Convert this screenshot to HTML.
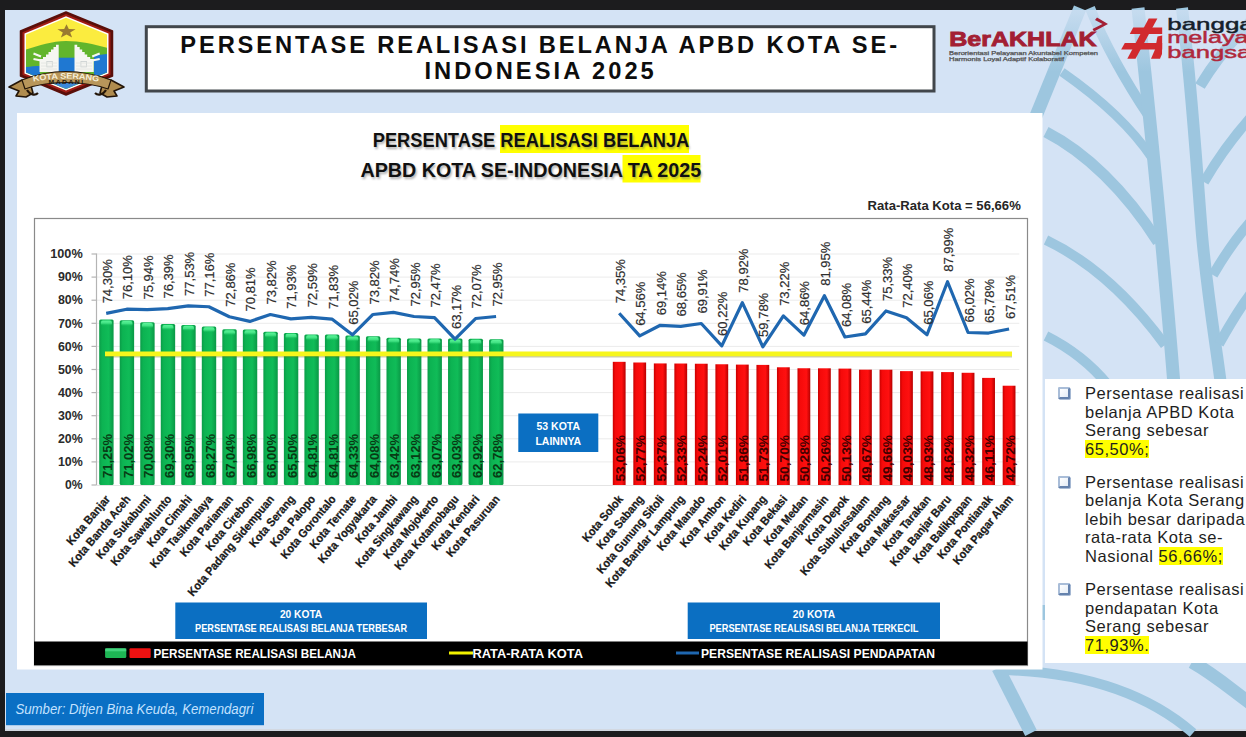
<!DOCTYPE html><html><head><meta charset="utf-8"><title>Persentase Realisasi Belanja APBD Kota</title><style>
html,body{margin:0;padding:0;}
body{width:1246px;height:737px;overflow:hidden;background:#1c1c1e;font-family:"Liberation Sans", sans-serif;position:relative;}
.slide{position:absolute;left:5px;top:10px;width:1241px;height:721px;background:#d4e3f5;overflow:hidden;border-bottom:0;box-shadow:inset 0 -2px 0 #d2d8e1;}
.abs{position:absolute;}
svg text{font-family:"Liberation Sans", sans-serif;}
.tbox{position:absolute;left:1045px;top:379px;width:201px;height:284px;background:#fff;}
.tb p{position:absolute;left:40px;margin:0;font-size:16.5px;line-height:18.55px;color:#1e1e1e;letter-spacing:0.53px;white-space:nowrap;}
.hl{background:#ffff00;}
.bul{position:absolute;left:12.5px;width:8px;height:8px;border:2px solid #a9bdd8;border-right-color:#6582ad;border-bottom-color:#6582ad;border-radius:1.5px;background:linear-gradient(135deg,#ffffff,#e4ecf6);box-shadow:0.8px 0.8px 0 #8ea6c8;}
</style></head><body>
<div class="slide"></div>
<svg class="abs" style="left:0;top:0" width="1246" height="737" viewBox="0 0 1246 737">
<defs>
<linearGradient id="gg" x1="0" x2="1" y1="0" y2="0"><stop offset="0" stop-color="#0b9c48"/><stop offset="0.2" stop-color="#0cb352"/><stop offset="0.65" stop-color="#10bc58"/><stop offset="1" stop-color="#0a9846"/></linearGradient>
<linearGradient id="gt" x1="0" x2="0" y1="0" y2="1"><stop offset="0" stop-color="#5cf59a"/><stop offset="0.5" stop-color="#4eec8e" stop-opacity="0.8"/><stop offset="1" stop-color="#10bc58" stop-opacity="0"/></linearGradient>
<linearGradient id="rg" x1="0" x2="1" y1="0" y2="0"><stop offset="0" stop-color="#c80000"/><stop offset="0.2" stop-color="#f50a0a"/><stop offset="0.7" stop-color="#ff1010"/><stop offset="1" stop-color="#b80000"/></linearGradient>
<filter id="blur1" x="-5%" y="-20%" width="110%" height="140%"><feGaussianBlur stdDeviation="0.8"/></filter>
</defs>
<g fill="none" stroke="#9dc6df" stroke-linecap="butt">
<path d="M1080,8 L1036,116" stroke-width="13"/>
<path d="M1062,72 C1095,95 1130,125 1152,158" stroke-width="9"/>
<path d="M1090,8 C1105,45 1128,85 1150,118" stroke-width="10"/>
<path d="M1138,8 C1148,100 1160,210 1174,385" stroke-width="13"/>
<path d="M1182,8 C1192,90 1196,160 1202,235 C1208,300 1216,345 1221,385" stroke-width="12"/>
<path d="M1046,132 C1085,152 1125,190 1158,242" stroke-width="11"/>
<path d="M1046,240 C1092,262 1132,300 1165,345" stroke-width="10"/>
<path d="M1046,336 C1066,346 1090,363 1108,385" stroke-width="10"/>
<path d="M1200,86 C1212,66 1228,45 1250,22" stroke-width="11"/>
<path d="M1204,182 C1218,158 1234,136 1252,116" stroke-width="10"/>
<path d="M1213,275 C1224,256 1236,238 1252,220" stroke-width="10"/>
<path d="M1219,344 C1228,328 1238,310 1252,292" stroke-width="10"/>
<path d="M998,668 L1031,733" stroke-width="13"/>
<path d="M1002,670 C1085,672 1148,694 1193,733" stroke-width="10"/>
<path d="M1192,662 C1215,675 1232,690 1250,703" stroke-width="13"/>
<path d="M1044,605 L1044,620" stroke-width="4"/>
</g>
<linearGradient id="fade" x1="0" x2="0" y1="0" y2="1"><stop offset="0" stop-color="#d4e3f5" stop-opacity="0.75"/><stop offset="1" stop-color="#d4e3f5" stop-opacity="0"/></linearGradient>
<rect x="940" y="10" width="306" height="62" fill="url(#fade)"/>
<g id="logo">
<path d="M9,87 L22,80 L30,82 L33,93 L26,97 L16,96 L19,91 Z" fill="#b08c4e" stroke="#231508" stroke-width="1.6" stroke-linejoin="round"/>
<path d="M124,87 L111,80 L103,82 L100,93 L107,97 L117,96 L114,91 Z" fill="#b08c4e" stroke="#231508" stroke-width="1.6" stroke-linejoin="round"/>
<path d="M27,90 C30,95 35,96 38,93" fill="none" stroke="#231508" stroke-width="2.2"/>
<path d="M106,90 C103,95 98,96 95,93" fill="none" stroke="#231508" stroke-width="2.2"/>
<path d="M66,12 L112.5,31 L112.5,76 L66,95 L20.5,76 L20.5,31 Z" fill="#5a0f0a" stroke="#5a0f0a" stroke-width="1.5" stroke-linejoin="round"/>
<path d="M66,14 L110.5,32.3 L110.5,74.7 L66,92.8 L22.5,74.7 L22.5,32.3 Z" fill="#a01c14" stroke-linejoin="round"/>
<path d="M66,16.2 L108.5,33.6 L108.5,73.4 L66,90.6 L24.5,73.4 L24.5,33.6 Z" fill="#fff"/>
<clipPath id="hexc"><path d="M66,17.8 L107,34.6 L107,72.4 L66,89 L26,72.4 L26,34.6 Z"/></clipPath>
<g clip-path="url(#hexc)">
<rect x="20" y="10" width="95" height="85" fill="#fbec3f"/>
<path d="M20,51 C36,47 50,41 66,41 C82,41 97,45 112,49 L112,100 L20,100 Z" fill="#62b52c"/>
<path d="M94,55.5 C100,54.5 106,54 112,53.5 L112,100 L94,100 Z" fill="#1f78d2"/>
<rect x="57.5" y="57.7" width="18" height="20" fill="#1f78d2"/>
<path d="M20,68 C26,67 33,66 40,66 L40,100 L20,100 Z" fill="#1f78d2"/>
<rect x="20" y="82" width="95" height="20" fill="#3d88d8"/>
</g>
<polygon points="66.5,21.9 68.8,28.3 75.6,28.5 70.2,32.7 72.1,39.3 66.5,35.4 60.9,39.3 62.8,32.7 57.4,28.5 64.2,28.3" fill="#9a7a30" transform="translate(0,31.5) scale(1,0.76) translate(0,-31.5)"/>
<polygon points="58.7,44.8 56.0,44.8 56.0,47.0 53.5,47.0 53.5,49.5 51.0,49.5 51.0,52.0 48.5,52.0 48.5,54.5 46.0,54.5 46.0,57.0 43.0,57.0 43.0,59.0 39.5,59.0 39.5,72.0 58.7,72.0" fill="#f6f6f2"/>
<polygon points="74.5,44.8 77.2,44.8 77.2,47.0 79.7,47.0 79.7,49.5 82.2,49.5 82.2,52.0 84.7,52.0 84.7,54.5 87.2,54.5 87.2,57.0 90.2,57.0 90.2,59.0 93.7,59.0 93.7,72.0 74.5,72.0" fill="#f6f6f2"/>
<path d="M33.5,53.5 L41,56.5 M33.5,59 L41,60.5 M99.7,53.5 L92.2,56.5 M99.7,59 L92.2,60.5" stroke="#f6f6f2" stroke-width="2"/>
<g fill="none" stroke="#c9cfcf" stroke-width="0.8">
<rect x="46.8" y="61.4" width="5.5" height="5.5"/><rect x="80.9" y="61.4" width="5.5" height="5.5"/>
<path d="M41,63 L57,63 M41,66 L57,66 M41,69 L57,69 M76,63 L92,63 M76,66 L92,66 M76,69 L92,69" stroke="#e2e4e0"/>
</g>
<path d="M22,80 C40,73 54,71.5 66,71.5 C78,71.5 92,73 111,80 L108,89 C92,83.5 78,82.5 66,82.5 C54,82.5 40,83.5 25,89 Z" fill="#b8965a" stroke="#231508" stroke-width="1.2" stroke-linejoin="round"/>
<path id="arcT" d="M32,81.8 Q66,75.5 100,81.8" fill="none"/>
<text font-size="8" font-weight="bold" fill="#f6efd8"><textPath href="#arcT" startOffset="50%" text-anchor="middle" textLength="66" lengthAdjust="spacingAndGlyphs">KOTA SERANG</textPath></text>
<text x="66.5" y="83.8" font-size="4.6" font-weight="bold" fill="#201408" text-anchor="middle" textLength="36" lengthAdjust="spacingAndGlyphs" letter-spacing="1">MADANI</text>
</g>
<rect x="146.3" y="26.7" width="787.7" height="64.3" fill="#fff" stroke="#41464b" stroke-width="3"/>
<text x="180.3" y="52.6" font-size="23.7" font-weight="bold" fill="#0d0d0d" textLength="716.8" lengthAdjust="spacing">PERSENTASE REALISASI BELANJA APBD KOTA SE-</text>
<text x="424.4" y="79.2" font-size="23.7" font-weight="bold" fill="#0d0d0d" textLength="229.4" lengthAdjust="spacing">INDONESIA 2025</text>
<text x="949.2" y="46" font-size="20.6" font-weight="bold" fill="#a31f34" stroke="#a31f34" stroke-width="0.9" textLength="147.5" lengthAdjust="spacingAndGlyphs">BerAKHLAK</text>
<path d="M1097,17.5 L1108,24 L1094,31.5 L1092.5,29 L1102.5,24 L1095,20 Z" fill="#a31f34"/>
<text x="949" y="54.5" font-size="5" fill="#555" stroke="#555" stroke-width="0.25" textLength="149" lengthAdjust="spacingAndGlyphs">Berorientasi Pelayanan Akuntabel Kompeten</text>
<text x="949" y="60.6" font-size="5" fill="#555" stroke="#555" stroke-width="0.25" textLength="115" lengthAdjust="spacingAndGlyphs">Harmonis Loyal Adaptif Kolaboratif</text>
<g fill="#d12a2e">
<path d="M1148.7,18.4 L1157.4,18.4 L1135.5,58.8 L1127.3,58.8 Z"/>
<path d="M1133.2,27.6 L1162.2,27.6 L1162.2,33.9 L1129.8,33.9 Z"/>
<path d="M1124.8,43 L1162.2,43 L1162.2,49.4 L1121.2,49.4 Z"/>
<path d="M1157.5,36.5 L1162.2,35.5 L1162,54 L1160,58.8 L1151,58.8 L1155,49.4 Z"/>
</g>
<text x="1167.3" y="29.5" font-size="16.4" fill="#14202a" stroke="#14202a" stroke-width="0.45" textLength="86.5" lengthAdjust="spacingAndGlyphs">bangga</text>
<text x="1167.3" y="43.1" font-size="16.4" fill="#b0283c" stroke="#b0283c" stroke-width="0.45" textLength="101" lengthAdjust="spacingAndGlyphs">melayani</text>
<text x="1167.3" y="58" font-size="16.4" fill="#b0283c" stroke="#b0283c" stroke-width="0.45" textLength="84" lengthAdjust="spacingAndGlyphs">bangsa</text>
<rect x="17" y="113" width="1025.5" height="556.5" fill="#fff"/>
<rect x="34.5" y="218.5" width="993" height="447" fill="#fff" stroke="#8a8a8a" stroke-width="1.2"/>
<rect x="500" y="125" width="189" height="28" fill="#ffff00"/>
<rect x="622.5" y="155" width="78" height="27.5" fill="#ffff00"/>
<text x="532.2" y="148.8" font-size="20.4" font-weight="bold" fill="#6a6a6a" filter="url(#blur1)" opacity="0.55" text-anchor="middle" textLength="316.6" lengthAdjust="spacingAndGlyphs">PERSENTASE REALISASI BELANJA</text>
<text x="532.0" y="178.5" font-size="20.4" font-weight="bold" fill="#6a6a6a" filter="url(#blur1)" opacity="0.55" text-anchor="middle" textLength="340.6" lengthAdjust="spacingAndGlyphs">APBD KOTA SE-INDONESIA TA 2025</text>
<text x="531.0" y="147.4" font-size="20.4" font-weight="bold" fill="#101010" text-anchor="middle" textLength="316.6" lengthAdjust="spacingAndGlyphs">PERSENTASE REALISASI BELANJA</text>
<text x="530.8" y="177.1" font-size="20.4" font-weight="bold" fill="#101010" text-anchor="middle" textLength="340.6" lengthAdjust="spacingAndGlyphs">APBD KOTA SE-INDONESIA TA 2025</text>
<text x="867.6" y="210.3" font-size="12.5" font-weight="bold" fill="#262626" textLength="153.2" lengthAdjust="spacingAndGlyphs">Rata-Rata Kota = 56,66%</text>
<g stroke="#ebebeb" stroke-width="1">
<line x1="96.5" y1="461.9" x2="1019.3" y2="461.9"/>
<line x1="96.5" y1="438.8" x2="1019.3" y2="438.8"/>
<line x1="96.5" y1="415.7" x2="1019.3" y2="415.7"/>
<line x1="96.5" y1="392.6" x2="1019.3" y2="392.6"/>
<line x1="96.5" y1="369.5" x2="1019.3" y2="369.5"/>
<line x1="96.5" y1="346.4" x2="1019.3" y2="346.4"/>
<line x1="96.5" y1="323.3" x2="1019.3" y2="323.3"/>
<line x1="96.5" y1="300.2" x2="1019.3" y2="300.2"/>
<line x1="96.5" y1="277.1" x2="1019.3" y2="277.1"/>
<line x1="96.5" y1="254.0" x2="1019.3" y2="254.0"/>
</g>
<g stroke="#b4b4b4" stroke-width="1.2">
<line x1="96.5" y1="253.5" x2="96.5" y2="485.0"/>
<line x1="96.5" y1="485.5" x2="1019.3" y2="485.5" stroke="#e4e4e4"/>
<line x1="91.5" y1="485.0" x2="96.5" y2="485.0"/>
<line x1="91.5" y1="461.9" x2="96.5" y2="461.9"/>
<line x1="91.5" y1="438.8" x2="96.5" y2="438.8"/>
<line x1="91.5" y1="415.7" x2="96.5" y2="415.7"/>
<line x1="91.5" y1="392.6" x2="96.5" y2="392.6"/>
<line x1="91.5" y1="369.5" x2="96.5" y2="369.5"/>
<line x1="91.5" y1="346.4" x2="96.5" y2="346.4"/>
<line x1="91.5" y1="323.3" x2="96.5" y2="323.3"/>
<line x1="91.5" y1="300.2" x2="96.5" y2="300.2"/>
<line x1="91.5" y1="277.1" x2="96.5" y2="277.1"/>
<line x1="91.5" y1="254.0" x2="96.5" y2="254.0"/>
</g>
<g font-size="13.3" font-weight="bold" fill="#2b2b2b" text-anchor="end">
<text x="82.7" y="489.2" textLength="17.6" lengthAdjust="spacingAndGlyphs">0%</text>
<text x="82.7" y="466.1" textLength="24.8" lengthAdjust="spacingAndGlyphs">10%</text>
<text x="82.7" y="443.0" textLength="24.8" lengthAdjust="spacingAndGlyphs">20%</text>
<text x="82.7" y="419.9" textLength="24.8" lengthAdjust="spacingAndGlyphs">30%</text>
<text x="82.7" y="396.8" textLength="24.8" lengthAdjust="spacingAndGlyphs">40%</text>
<text x="82.7" y="373.7" textLength="24.8" lengthAdjust="spacingAndGlyphs">50%</text>
<text x="82.7" y="350.6" textLength="24.8" lengthAdjust="spacingAndGlyphs">60%</text>
<text x="82.7" y="327.5" textLength="24.8" lengthAdjust="spacingAndGlyphs">70%</text>
<text x="82.7" y="304.4" textLength="24.8" lengthAdjust="spacingAndGlyphs">80%</text>
<text x="82.7" y="281.3" textLength="24.8" lengthAdjust="spacingAndGlyphs">90%</text>
<text x="82.7" y="258.2" textLength="32.5" lengthAdjust="spacingAndGlyphs">100%</text>
</g>
<rect x="99.20" y="319.61" width="14.4" height="165.39" rx="1.5" fill="url(#gg)"/>
<rect x="100.90" y="320.41" width="11" height="5.5" rx="2" fill="url(#gt)"/>
<rect x="119.72" y="320.14" width="14.4" height="164.86" rx="1.5" fill="url(#gg)"/>
<rect x="121.42" y="320.94" width="11" height="5.5" rx="2" fill="url(#gt)"/>
<rect x="140.24" y="322.32" width="14.4" height="162.68" rx="1.5" fill="url(#gg)"/>
<rect x="141.94" y="323.12" width="11" height="5.5" rx="2" fill="url(#gt)"/>
<rect x="160.76" y="324.12" width="14.4" height="160.88" rx="1.5" fill="url(#gg)"/>
<rect x="162.46" y="324.92" width="11" height="5.5" rx="2" fill="url(#gt)"/>
<rect x="181.28" y="324.93" width="14.4" height="160.07" rx="1.5" fill="url(#gg)"/>
<rect x="182.98" y="325.73" width="11" height="5.5" rx="2" fill="url(#gt)"/>
<rect x="201.80" y="326.50" width="14.4" height="158.50" rx="1.5" fill="url(#gg)"/>
<rect x="203.50" y="327.30" width="11" height="5.5" rx="2" fill="url(#gt)"/>
<rect x="222.32" y="329.34" width="14.4" height="155.66" rx="1.5" fill="url(#gg)"/>
<rect x="224.02" y="330.14" width="11" height="5.5" rx="2" fill="url(#gt)"/>
<rect x="242.84" y="329.48" width="14.4" height="155.52" rx="1.5" fill="url(#gg)"/>
<rect x="244.54" y="330.28" width="11" height="5.5" rx="2" fill="url(#gt)"/>
<rect x="263.36" y="331.74" width="14.4" height="153.26" rx="1.5" fill="url(#gg)"/>
<rect x="265.06" y="332.54" width="11" height="5.5" rx="2" fill="url(#gt)"/>
<rect x="283.88" y="332.89" width="14.4" height="152.11" rx="1.5" fill="url(#gg)"/>
<rect x="285.58" y="333.69" width="11" height="5.5" rx="2" fill="url(#gt)"/>
<rect x="304.40" y="334.49" width="14.4" height="150.51" rx="1.5" fill="url(#gg)"/>
<rect x="306.10" y="335.29" width="11" height="5.5" rx="2" fill="url(#gt)"/>
<rect x="324.92" y="334.49" width="14.4" height="150.51" rx="1.5" fill="url(#gg)"/>
<rect x="326.62" y="335.29" width="11" height="5.5" rx="2" fill="url(#gt)"/>
<rect x="345.44" y="335.60" width="14.4" height="149.40" rx="1.5" fill="url(#gg)"/>
<rect x="347.14" y="336.40" width="11" height="5.5" rx="2" fill="url(#gt)"/>
<rect x="365.96" y="336.18" width="14.4" height="148.82" rx="1.5" fill="url(#gg)"/>
<rect x="367.66" y="336.98" width="11" height="5.5" rx="2" fill="url(#gt)"/>
<rect x="386.48" y="337.70" width="14.4" height="147.30" rx="1.5" fill="url(#gg)"/>
<rect x="388.18" y="338.50" width="11" height="5.5" rx="2" fill="url(#gt)"/>
<rect x="407.00" y="338.39" width="14.4" height="146.61" rx="1.5" fill="url(#gg)"/>
<rect x="408.70" y="339.19" width="11" height="5.5" rx="2" fill="url(#gt)"/>
<rect x="427.52" y="338.51" width="14.4" height="146.49" rx="1.5" fill="url(#gg)"/>
<rect x="429.22" y="339.31" width="11" height="5.5" rx="2" fill="url(#gt)"/>
<rect x="448.04" y="338.60" width="14.4" height="146.40" rx="1.5" fill="url(#gg)"/>
<rect x="449.74" y="339.40" width="11" height="5.5" rx="2" fill="url(#gt)"/>
<rect x="468.56" y="338.85" width="14.4" height="146.15" rx="1.5" fill="url(#gg)"/>
<rect x="470.26" y="339.65" width="11" height="5.5" rx="2" fill="url(#gt)"/>
<rect x="489.08" y="339.18" width="14.4" height="145.82" rx="1.5" fill="url(#gg)"/>
<rect x="490.78" y="339.98" width="11" height="5.5" rx="2" fill="url(#gt)"/>
<rect x="612.80" y="361.83" width="12.8" height="123.17" fill="url(#rg)"/>
<rect x="633.32" y="362.50" width="12.8" height="122.50" fill="url(#rg)"/>
<rect x="653.84" y="363.43" width="12.8" height="121.57" fill="url(#rg)"/>
<rect x="674.36" y="363.52" width="12.8" height="121.48" fill="url(#rg)"/>
<rect x="694.88" y="363.73" width="12.8" height="121.27" fill="url(#rg)"/>
<rect x="715.40" y="364.26" width="12.8" height="120.74" fill="url(#rg)"/>
<rect x="735.92" y="364.60" width="12.8" height="120.40" fill="url(#rg)"/>
<rect x="756.44" y="364.90" width="12.8" height="120.10" fill="url(#rg)"/>
<rect x="776.96" y="367.28" width="12.8" height="117.72" fill="url(#rg)"/>
<rect x="797.48" y="368.25" width="12.8" height="116.75" fill="url(#rg)"/>
<rect x="818.00" y="368.30" width="12.8" height="116.70" fill="url(#rg)"/>
<rect x="838.52" y="368.60" width="12.8" height="116.40" fill="url(#rg)"/>
<rect x="859.04" y="369.66" width="12.8" height="115.34" fill="url(#rg)"/>
<rect x="879.56" y="369.69" width="12.8" height="115.31" fill="url(#rg)"/>
<rect x="900.08" y="371.14" width="12.8" height="113.86" fill="url(#rg)"/>
<rect x="920.60" y="371.37" width="12.8" height="113.63" fill="url(#rg)"/>
<rect x="941.12" y="372.09" width="12.8" height="112.91" fill="url(#rg)"/>
<rect x="961.64" y="372.78" width="12.8" height="112.22" fill="url(#rg)"/>
<rect x="982.16" y="377.89" width="12.8" height="107.11" fill="url(#rg)"/>
<rect x="1002.68" y="385.72" width="12.8" height="99.28" fill="url(#rg)"/>
<line x1="105" y1="356.72" x2="1012" y2="356.72" stroke="#6a6a10" stroke-opacity="0.35" stroke-width="1.5"/>
<line x1="105" y1="353.82" x2="1012" y2="353.82" stroke="#f6f61c" stroke-width="4.8"/>
<polyline points="106.20,313.37 126.72,309.21 147.24,309.58 167.76,308.54 188.28,305.91 208.80,306.76 229.32,316.69 249.84,321.43 270.36,314.48 290.88,318.84 311.40,317.32 331.92,319.07 352.44,334.80 372.96,314.48 393.48,312.35 414.00,316.49 434.52,317.59 455.04,339.08 475.56,318.52 496.08,316.49" fill="none" stroke="#1f67b0" stroke-width="3.2" stroke-linejoin="round"/>
<polyline points="619.20,313.25 639.72,335.87 660.24,325.29 680.76,326.42 701.28,323.51 721.80,345.89 742.32,302.69 762.84,346.91 783.36,315.86 803.88,335.17 824.40,295.70 844.92,336.98 865.44,333.83 885.96,310.99 906.48,317.76 927.00,334.71 947.52,281.74 968.04,332.49 988.56,333.05 1009.08,329.05" fill="none" stroke="#1f67b0" stroke-width="3.2" stroke-linejoin="round"/>
<g font-size="13" fill="#2e2e2e" stroke="#2e2e2e" stroke-width="0.2">
<text transform="translate(111.80,303.37) rotate(-90)">74,30%</text>
<text transform="translate(132.32,299.21) rotate(-90)">76,10%</text>
<text transform="translate(152.84,299.58) rotate(-90)">75,94%</text>
<text transform="translate(173.36,298.54) rotate(-90)">76,39%</text>
<text transform="translate(193.88,295.91) rotate(-90)">77,53%</text>
<text transform="translate(214.40,296.76) rotate(-90)">77,16%</text>
<text transform="translate(234.92,306.69) rotate(-90)">72,86%</text>
<text transform="translate(255.44,311.43) rotate(-90)">70,81%</text>
<text transform="translate(275.96,304.48) rotate(-90)">73,82%</text>
<text transform="translate(296.48,308.84) rotate(-90)">71,93%</text>
<text transform="translate(317.00,307.32) rotate(-90)">72,59%</text>
<text transform="translate(337.52,309.07) rotate(-90)">71,83%</text>
<text transform="translate(358.04,324.80) rotate(-90)">65,02%</text>
<text transform="translate(378.56,304.48) rotate(-90)">73,82%</text>
<text transform="translate(399.08,302.35) rotate(-90)">74,74%</text>
<text transform="translate(419.60,306.49) rotate(-90)">72,95%</text>
<text transform="translate(440.12,307.59) rotate(-90)">72,47%</text>
<text transform="translate(460.64,329.08) rotate(-90)">63,17%</text>
<text transform="translate(481.16,308.52) rotate(-90)">72,07%</text>
<text transform="translate(501.68,306.49) rotate(-90)">72,95%</text>
<text transform="translate(624.80,303.25) rotate(-90)">74,35%</text>
<text transform="translate(645.32,325.87) rotate(-90)">64,56%</text>
<text transform="translate(665.84,315.29) rotate(-90)">69,14%</text>
<text transform="translate(686.36,316.42) rotate(-90)">68,65%</text>
<text transform="translate(706.88,313.51) rotate(-90)">69,91%</text>
<text transform="translate(727.40,335.89) rotate(-90)">60,22%</text>
<text transform="translate(747.92,292.69) rotate(-90)">78,92%</text>
<text transform="translate(768.44,336.91) rotate(-90)">59,78%</text>
<text transform="translate(788.96,305.86) rotate(-90)">73,22%</text>
<text transform="translate(809.48,325.17) rotate(-90)">64,86%</text>
<text transform="translate(830.00,285.70) rotate(-90)">81,95%</text>
<text transform="translate(850.52,326.98) rotate(-90)">64,08%</text>
<text transform="translate(871.04,323.83) rotate(-90)">65,44%</text>
<text transform="translate(891.56,300.99) rotate(-90)">75,33%</text>
<text transform="translate(912.08,307.76) rotate(-90)">72,40%</text>
<text transform="translate(932.60,324.71) rotate(-90)">65,06%</text>
<text transform="translate(953.12,271.74) rotate(-90)">87,99%</text>
<text transform="translate(973.64,322.49) rotate(-90)">66,02%</text>
<text transform="translate(994.16,323.05) rotate(-90)">65,78%</text>
<text transform="translate(1014.68,319.05) rotate(-90)">67,51%</text>
</g>
<g font-size="13" font-weight="bold">
<text fill="#083a14" transform="translate(112.20,478) rotate(-90)">71,25%</text>
<text fill="#083a14" transform="translate(132.72,478) rotate(-90)">71,02%</text>
<text fill="#083a14" transform="translate(153.24,478) rotate(-90)">70,08%</text>
<text fill="#083a14" transform="translate(173.76,478) rotate(-90)">69,30%</text>
<text fill="#083a14" transform="translate(194.28,478) rotate(-90)">68,95%</text>
<text fill="#083a14" transform="translate(214.80,478) rotate(-90)">68,27%</text>
<text fill="#083a14" transform="translate(235.32,478) rotate(-90)">67,04%</text>
<text fill="#083a14" transform="translate(255.84,478) rotate(-90)">66,98%</text>
<text fill="#083a14" transform="translate(276.36,478) rotate(-90)">66,00%</text>
<text fill="#083a14" transform="translate(296.88,478) rotate(-90)">65,50%</text>
<text fill="#083a14" transform="translate(317.40,478) rotate(-90)">64,81%</text>
<text fill="#083a14" transform="translate(337.92,478) rotate(-90)">64,81%</text>
<text fill="#083a14" transform="translate(358.44,478) rotate(-90)">64,33%</text>
<text fill="#083a14" transform="translate(378.96,478) rotate(-90)">64,08%</text>
<text fill="#083a14" transform="translate(399.48,478) rotate(-90)">63,42%</text>
<text fill="#083a14" transform="translate(420.00,478) rotate(-90)">63,12%</text>
<text fill="#083a14" transform="translate(440.52,478) rotate(-90)">63,07%</text>
<text fill="#083a14" transform="translate(461.04,478) rotate(-90)">63,03%</text>
<text fill="#083a14" transform="translate(481.56,478) rotate(-90)">62,92%</text>
<text fill="#083a14" transform="translate(502.08,478) rotate(-90)">62,78%</text>
<text fill="#420000" transform="translate(624.80,481.5) rotate(-90)" textLength="46.5" lengthAdjust="spacingAndGlyphs">53,06%</text>
<text fill="#420000" transform="translate(645.32,481.5) rotate(-90)" textLength="46.5" lengthAdjust="spacingAndGlyphs">52,77%</text>
<text fill="#420000" transform="translate(665.84,481.5) rotate(-90)" textLength="46.5" lengthAdjust="spacingAndGlyphs">52,37%</text>
<text fill="#420000" transform="translate(686.36,481.5) rotate(-90)" textLength="46.5" lengthAdjust="spacingAndGlyphs">52,33%</text>
<text fill="#420000" transform="translate(706.88,481.5) rotate(-90)" textLength="46.5" lengthAdjust="spacingAndGlyphs">52,24%</text>
<text fill="#420000" transform="translate(727.40,481.5) rotate(-90)" textLength="46.5" lengthAdjust="spacingAndGlyphs">52,01%</text>
<text fill="#420000" transform="translate(747.92,481.5) rotate(-90)" textLength="46.5" lengthAdjust="spacingAndGlyphs">51,86%</text>
<text fill="#420000" transform="translate(768.44,481.5) rotate(-90)" textLength="46.5" lengthAdjust="spacingAndGlyphs">51,73%</text>
<text fill="#420000" transform="translate(788.96,481.5) rotate(-90)" textLength="46.5" lengthAdjust="spacingAndGlyphs">50,70%</text>
<text fill="#420000" transform="translate(809.48,481.5) rotate(-90)" textLength="46.5" lengthAdjust="spacingAndGlyphs">50,28%</text>
<text fill="#420000" transform="translate(830.00,481.5) rotate(-90)" textLength="46.5" lengthAdjust="spacingAndGlyphs">50,26%</text>
<text fill="#420000" transform="translate(850.52,481.5) rotate(-90)" textLength="46.5" lengthAdjust="spacingAndGlyphs">50,13%</text>
<text fill="#420000" transform="translate(871.04,481.5) rotate(-90)" textLength="46.5" lengthAdjust="spacingAndGlyphs">49,67%</text>
<text fill="#420000" transform="translate(891.56,481.5) rotate(-90)" textLength="46.5" lengthAdjust="spacingAndGlyphs">49,66%</text>
<text fill="#420000" transform="translate(912.08,481.5) rotate(-90)" textLength="46.5" lengthAdjust="spacingAndGlyphs">49,03%</text>
<text fill="#420000" transform="translate(932.60,481.5) rotate(-90)" textLength="46.5" lengthAdjust="spacingAndGlyphs">48,93%</text>
<text fill="#420000" transform="translate(953.12,481.5) rotate(-90)" textLength="46.5" lengthAdjust="spacingAndGlyphs">48,62%</text>
<text fill="#420000" transform="translate(973.64,481.5) rotate(-90)" textLength="46.5" lengthAdjust="spacingAndGlyphs">48,32%</text>
<text fill="#420000" transform="translate(994.16,481.5) rotate(-90)" textLength="46.5" lengthAdjust="spacingAndGlyphs">46,11%</text>
<text fill="#420000" transform="translate(1014.68,481.5) rotate(-90)" textLength="46.5" lengthAdjust="spacingAndGlyphs">42,72%</text>
</g>
<g font-size="11.8" font-weight="bold" fill="#1a1a1a" stroke="#1a1a1a" stroke-width="0.25" text-anchor="end">
<text transform="translate(110.70,499.5) rotate(-50)" textLength="60.6" lengthAdjust="spacingAndGlyphs">Kota Banjar</text>
<text transform="translate(131.22,499.5) rotate(-50)" textLength="89.0" lengthAdjust="spacingAndGlyphs">Kota Banda Aceh</text>
<text transform="translate(151.74,499.5) rotate(-50)" textLength="78.6" lengthAdjust="spacingAndGlyphs">Kota Sukabumi</text>
<text transform="translate(172.26,499.5) rotate(-50)" textLength="87.6" lengthAdjust="spacingAndGlyphs">Kota Sawahlunto</text>
<text transform="translate(192.78,499.5) rotate(-50)" textLength="63.0" lengthAdjust="spacingAndGlyphs">Kota Cimahi</text>
<text transform="translate(213.30,499.5) rotate(-50)" textLength="90.4" lengthAdjust="spacingAndGlyphs">Kota Tasikmalaya</text>
<text transform="translate(233.82,499.5) rotate(-50)" textLength="75.6" lengthAdjust="spacingAndGlyphs">Kota Pariaman</text>
<text transform="translate(254.34,499.5) rotate(-50)" textLength="67.8" lengthAdjust="spacingAndGlyphs">Kota Cirebon</text>
<text transform="translate(274.86,499.5) rotate(-50)" textLength="127.2" lengthAdjust="spacingAndGlyphs">Kota Padang Sidempuan</text>
<text transform="translate(295.38,499.5) rotate(-50)" textLength="63.6" lengthAdjust="spacingAndGlyphs">Kota Serang</text>
<text transform="translate(315.90,499.5) rotate(-50)" textLength="63.0" lengthAdjust="spacingAndGlyphs">Kota Palopo</text>
<text transform="translate(336.42,499.5) rotate(-50)" textLength="78.6" lengthAdjust="spacingAndGlyphs">Kota Gorontalo</text>
<text transform="translate(356.94,499.5) rotate(-50)" textLength="65.2" lengthAdjust="spacingAndGlyphs">Kota Ternate</text>
<text transform="translate(377.46,499.5) rotate(-50)" textLength="84.2" lengthAdjust="spacingAndGlyphs">Kota Yogyakarta</text>
<text transform="translate(397.98,499.5) rotate(-50)" textLength="58.2" lengthAdjust="spacingAndGlyphs">Kota Jambi</text>
<text transform="translate(418.50,499.5) rotate(-50)" textLength="90.0" lengthAdjust="spacingAndGlyphs">Kota Singkawang</text>
<text transform="translate(439.02,499.5) rotate(-50)" textLength="78.6" lengthAdjust="spacingAndGlyphs">Kota Mojokerto</text>
<text transform="translate(459.54,499.5) rotate(-50)" textLength="93.0" lengthAdjust="spacingAndGlyphs">Kota Kotamobagu</text>
<text transform="translate(480.06,499.5) rotate(-50)" textLength="67.2" lengthAdjust="spacingAndGlyphs">Kota Kendari</text>
<text transform="translate(500.58,499.5) rotate(-50)" textLength="76.2" lengthAdjust="spacingAndGlyphs">Kota Pasuruan</text>
<text transform="translate(623.70,499.5) rotate(-50)" textLength="56.4" lengthAdjust="spacingAndGlyphs">Kota Solok</text>
<text transform="translate(644.22,499.5) rotate(-50)" textLength="66.0" lengthAdjust="spacingAndGlyphs">Kota Sabang</text>
<text transform="translate(664.74,499.5) rotate(-50)" textLength="97.8" lengthAdjust="spacingAndGlyphs">Kota Gunung Sitoli</text>
<text transform="translate(685.26,499.5) rotate(-50)" textLength="115.8" lengthAdjust="spacingAndGlyphs">Kota Bandar Lampung</text>
<text transform="translate(705.78,499.5) rotate(-50)" textLength="67.8" lengthAdjust="spacingAndGlyphs">Kota Manado</text>
<text transform="translate(726.30,499.5) rotate(-50)" textLength="63.8" lengthAdjust="spacingAndGlyphs">Kota Ambon</text>
<text transform="translate(746.82,499.5) rotate(-50)" textLength="57.6" lengthAdjust="spacingAndGlyphs">Kota Kediri</text>
<text transform="translate(767.34,499.5) rotate(-50)" textLength="67.2" lengthAdjust="spacingAndGlyphs">Kota Kupang</text>
<text transform="translate(787.86,499.5) rotate(-50)" textLength="61.8" lengthAdjust="spacingAndGlyphs">Kota Bekasi</text>
<text transform="translate(808.38,499.5) rotate(-50)" textLength="61.2" lengthAdjust="spacingAndGlyphs">Kota Medan</text>
<text transform="translate(828.90,499.5) rotate(-50)" textLength="91.8" lengthAdjust="spacingAndGlyphs">Kota Banjarmasin</text>
<text transform="translate(849.42,499.5) rotate(-50)" textLength="60.0" lengthAdjust="spacingAndGlyphs">Kota Depok</text>
<text transform="translate(869.94,499.5) rotate(-50)" textLength="100.2" lengthAdjust="spacingAndGlyphs">Kota Subulussalam</text>
<text transform="translate(890.46,499.5) rotate(-50)" textLength="70.8" lengthAdjust="spacingAndGlyphs">Kota Bontang</text>
<text transform="translate(910.98,499.5) rotate(-50)" textLength="76.2" lengthAdjust="spacingAndGlyphs">Kota Makassar</text>
<text transform="translate(931.50,499.5) rotate(-50)" textLength="67.6" lengthAdjust="spacingAndGlyphs">Kota Tarakan</text>
<text transform="translate(952.02,499.5) rotate(-50)" textLength="88.2" lengthAdjust="spacingAndGlyphs">Kota Banjar Baru</text>
<text transform="translate(972.54,499.5) rotate(-50)" textLength="84.6" lengthAdjust="spacingAndGlyphs">Kota Balikpapan</text>
<text transform="translate(993.06,499.5) rotate(-50)" textLength="78.6" lengthAdjust="spacingAndGlyphs">Kota Pontianak</text>
<text transform="translate(1013.58,499.5) rotate(-50)" textLength="86.0" lengthAdjust="spacingAndGlyphs">Kota Pagar Alam</text>
</g>
<rect x="518.3" y="413.5" width="80" height="38.5" fill="#0b6fc2"/>
<text x="558.3" y="430.3" font-size="10.5" font-weight="bold" fill="#fff" text-anchor="middle">53 KOTA</text>
<text x="558.3" y="445.2" font-size="10.5" font-weight="bold" fill="#fff" text-anchor="middle">LAINNYA</text>
<rect x="175.3" y="602.5" width="251.7" height="36.5" fill="#0b6fc2"/>
<text x="301.1" y="617.6" font-size="10.2" font-weight="bold" fill="#fff" text-anchor="middle">20 KOTA</text>
<text x="301.1" y="632" font-size="10" font-weight="bold" fill="#fff" text-anchor="middle" textLength="212" lengthAdjust="spacingAndGlyphs">PERSENTASE REALISASI BELANJA TERBESAR</text>
<rect x="687.7" y="602.5" width="252.3" height="36.5" fill="#0b6fc2"/>
<text x="813.9" y="617.6" font-size="10.2" font-weight="bold" fill="#fff" text-anchor="middle">20 KOTA</text>
<text x="813.9" y="632" font-size="10" font-weight="bold" fill="#fff" text-anchor="middle" textLength="209" lengthAdjust="spacingAndGlyphs">PERSENTASE REALISASI BELANJA TERKECIL</text>
<rect x="34" y="641.5" width="993.5" height="23.5" fill="#000"/>
<rect x="105.1" y="648.3" width="21.2" height="9.7" rx="1.5" fill="#1eb655"/>
<rect x="105.1" y="648.3" width="21.2" height="3" fill="#5fe69a" opacity="0.6"/>
<rect x="129.5" y="648.3" width="21.2" height="9.7" rx="1" fill="#ee1111"/>
<text x="153.5" y="657.5" font-size="12" font-weight="bold" fill="#fff" textLength="202.5" lengthAdjust="spacingAndGlyphs">PERSENTASE REALISASI BELANJA</text>
<line x1="449" y1="653" x2="473" y2="653" stroke="#f2f200" stroke-width="3"/>
<text x="472.5" y="657.5" font-size="12" font-weight="bold" fill="#fff" textLength="110.5" lengthAdjust="spacingAndGlyphs">RATA-RATA KOTA</text>
<line x1="676" y1="653" x2="699" y2="653" stroke="#1f67b0" stroke-width="3"/>
<text x="701" y="657.5" font-size="12" font-weight="bold" fill="#fff" textLength="234" lengthAdjust="spacingAndGlyphs">PERSENTASE REALISASI PENDAPATAN</text>
<rect x="6" y="693" width="258" height="32.2" fill="#0a6fc4"/>
<text x="15.4" y="713.5" font-size="14.6" font-style="italic" fill="#c4e2ff" textLength="238" lengthAdjust="spacingAndGlyphs">Sumber: Ditjen Bina Keuda, Kemendagri</text>
</svg>
<div class="tbox tb">
<div class="bul" style="top:8.2px"></div>
<p style="top:5.14px">Persentase realisasi</p>
<p style="top:23.69px">belanja APBD Kota</p>
<p style="top:42.24px">Serang sebesar</p>
<p style="top:60.79px"><span class="hl">65,50%;</span></p>
<div class="bul" style="top:96.9px"></div>
<p style="top:93.84px">Persentase realisasi</p>
<p style="top:112.39px">belanja Kota Serang</p>
<p style="top:130.94px">lebih besar daripada</p>
<p style="top:149.49px">rata-rata Kota se-</p>
<p style="top:168.04px">Nasional <span class="hl">56,66%;</span></p>
<div class="bul" style="top:204.3px"></div>
<p style="top:201.24px">Persentase realisasi</p>
<p style="top:219.79px">pendapatan Kota</p>
<p style="top:238.34px">Serang sebesar</p>
<p style="top:256.89px"><span class="hl">71,93%.</span></p>
</div>
</body></html>
